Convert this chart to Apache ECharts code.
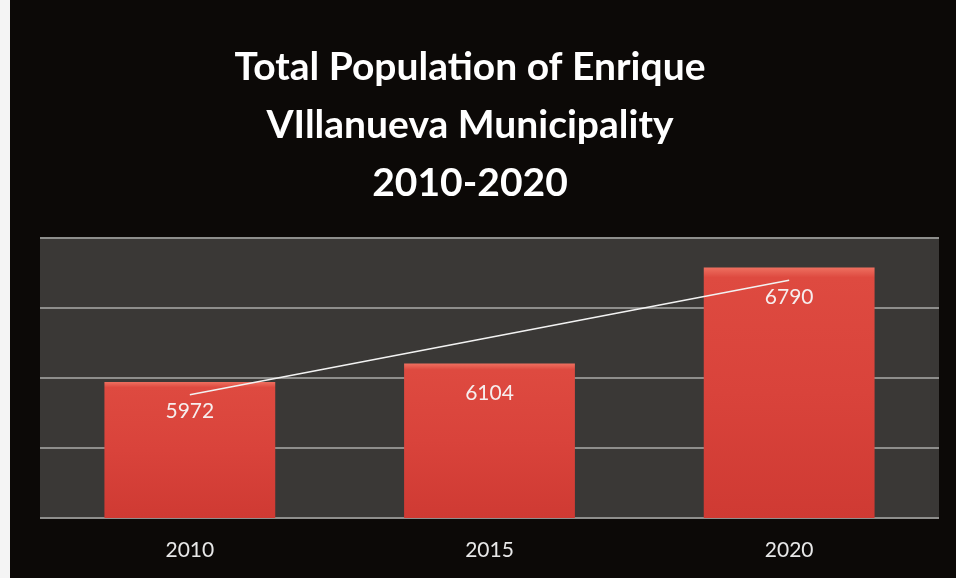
<!DOCTYPE html>
<html>
<head>
<meta charset="utf-8">
<script src="https://cdn.jsdelivr.net/npm/echarts@6/dist/echarts.min.js"></script>
<style>
  html, body { margin: 0; padding: 0; background: #ffffff; }
  #chart { width: 956px; height: 578px; }
</style>
</head>
<body>
<div id="chart"></div>
<script>
const titleLines = ['Total Population of Enrique', 'VIllanueva Municipality', '2010-2020'];
const categories = ['2010', '2015', '2020'];
const population = [5972, 6104, 6790];
// white trend line (start, middle, end)
const trendValues = [5880, 6289, 6698];
const yMin = 5000, yMax = 7000, yInterval = 500;

const chart = echarts.init(document.getElementById('chart'));
const font = 'Lato, "Open Sans", sans-serif';

chart.setOption({
  backgroundColor: '#0c0907',
  animation: false,
  graphic: [
    { type: 'rect', left: 0, top: 0, shape: { width: 10, height: 578 }, style: { fill: '#f4f4f4' }, z: 100 }
  ],
  title: {
    text: titleLines.join('\n'),
    left: 465,
    top: 33,
    textAlign: 'center',
    textStyle: {
      color: '#ffffff',
      fontFamily: font,
      fontWeight: 'bold',
      fontSize: 39,
      lineHeight: 58
    }
  },
  grid: {
    left: 40, right: 17, top: 238, bottom: 60,
    show: true,
    backgroundColor: '#3a3836',
    borderWidth: 0
  },
  xAxis: {
    type: 'category',
    data: categories,
    axisLine: { show: false },
    axisTick: { show: false },
    axisLabel: { color: '#e8e8e8', fontFamily: font, fontSize: 21, margin: 22 }
  },
  yAxis: {
    type: 'value',
    min: yMin, max: yMax, interval: yInterval,
    axisLine: { show: false },
    axisTick: { show: false },
    axisLabel: { show: false },
    splitLine: { lineStyle: { color: '#8e8e8c', width: 2 } }
  },
  series: [
    {
      type: 'bar',
      data: population,
      barWidth: '57%',
      itemStyle: {
        color: {
          type: 'linear', x: 0, y: 0, x2: 0, y2: 1,
          colorStops: [
            { offset: 0, color: '#ee7060' },
            { offset: 0.04, color: '#de4a40' },
            { offset: 0.5, color: '#d9433b' },
            { offset: 1, color: '#cf3a33' }
          ]
        }
      },
      label: {
        show: true,
        position: 'insideTop',
        distance: 19,
        color: '#f6eeee',
        fontFamily: font,
        fontSize: 21
      },
      z: 2
    },
    {
      type: 'line',
      data: trendValues,
      symbol: 'none',
      lineStyle: { color: '#f2f2f2', width: 1.6 },
      z: 3
    }
  ]
});
</script>
</body>
</html>
